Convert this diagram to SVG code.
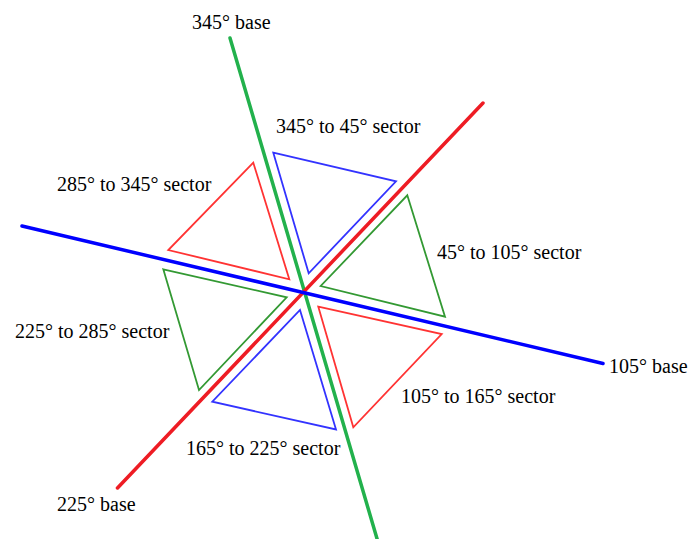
<svg xmlns="http://www.w3.org/2000/svg" width="689" height="539" viewBox="0 0 689 539">
<style>
text{font-family:"Liberation Serif","Times New Roman",serif;font-size:20px;fill:#000}
.base{fill:none;stroke-width:3.5;stroke-linecap:round}
.tri{fill:none;stroke-width:1.8;stroke-linejoin:miter}
</style>
<rect width="689" height="539" fill="#fff"/>
<g id="triangles">
<polygon id="s345_45" class="tri" stroke="#3333ff" points="273.3,152.7 396,181.3 308.7,273.3"/>
<polygon id="s285_345" class="tri" stroke="#ff3333" points="253.3,162.7 168.3,250 289.3,279.3"/>
<polygon id="s45_105" class="tri" stroke="#339933" points="407.3,195.3 445,316.7 320.7,286"/>
<polygon id="s105_165" class="tri" stroke="#ff3333" points="318.3,306.7 441.7,334 353.3,427.3"/>
<polygon id="s165_225" class="tri" stroke="#3333ff" points="300,310 336,429.5 212.3,401.7"/>
<polygon id="s225_285" class="tri" stroke="#339933" points="163.3,269.3 286.7,297.3 199,390"/>
</g>
<g id="connectors">
<line id="base345" class="base" stroke="#22b14c" x1="230" y1="38" x2="378" y2="542"/>
<line id="base225" class="base" stroke="#ee1c24" x1="117.5" y1="488" x2="483" y2="103"/>
<line id="base105" class="base" stroke="#0000ff" x1="22" y1="226" x2="603" y2="363.5"/>
</g>
<g id="labels">
<text x="192" y="29">345° base</text>
<text x="276" y="133">345° to 45° sector</text>
<text x="57" y="191">285° to 345° sector</text>
<text x="437" y="259">45° to 105° sector</text>
<text x="15" y="338">225° to 285° sector</text>
<text x="609" y="373">105° base</text>
<text x="401" y="403">105° to 165° sector</text>
<text x="186" y="455">165° to 225° sector</text>
<text x="57" y="511">225° base</text>
</g>
</svg>
